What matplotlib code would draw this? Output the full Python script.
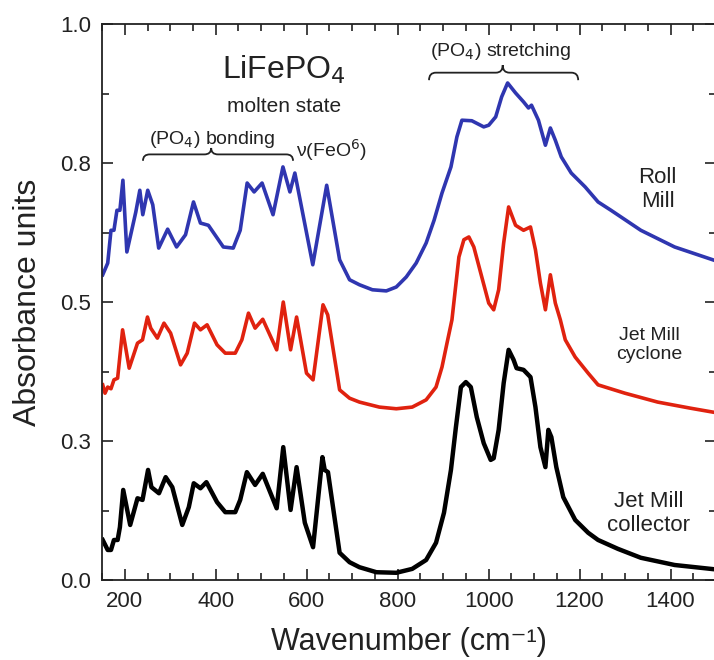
import numpy as np
import matplotlib.pyplot as plt
from matplotlib.path import Path
from matplotlib.patches import PathPatch
from matplotlib.ticker import MultipleLocator, FixedLocator, FixedFormatter

plt.rcParams['font.family'] = ['Liberation Sans', 'DejaVu Sans']

# Roll Mill (blue)
roll_x = [151.5, 162.5, 169.7, 176.2, 182.8, 189.3, 195.9, 204.6, 224.3, 233.1,
          239.6, 250.5, 261.5, 274.6, 294.3, 313.9, 333.6, 351.1, 366.4, 383.9,
          416.7, 438.5, 453.8, 469.1, 484.4, 501.9, 526.0, 547.8, 563.1, 574.0,
          613.4, 644.0, 672.4, 694.3, 716.1, 744.5, 775.1, 797.0, 818.9, 840.7,
          862.6, 880.1, 897.5, 917.2, 930.3, 941.3, 963.1, 989.3, 1000.3, 1015.6,
          1028.7, 1041.8, 1059.3, 1076.8, 1087.7, 1094.3, 1109.6, 1124.9, 1135.8, 1146.7,
          1159.8, 1181.7, 1212.3, 1240.7, 1269.1, 1334.7, 1409.0, 1500.0]
roll_y = [0.549, 0.570, 0.629, 0.629, 0.665, 0.665, 0.719, 0.590, 0.662, 0.701,
          0.657, 0.701, 0.675, 0.597, 0.631, 0.599, 0.621, 0.680, 0.642, 0.638,
          0.599, 0.597, 0.629, 0.714, 0.698, 0.714, 0.657, 0.743, 0.698, 0.732,
          0.567, 0.710, 0.576, 0.540, 0.531, 0.522, 0.520, 0.527, 0.545, 0.570,
          0.606, 0.647, 0.696, 0.743, 0.797, 0.827, 0.826, 0.815, 0.818, 0.833,
          0.869, 0.894, 0.876, 0.860, 0.849, 0.854, 0.827, 0.782, 0.813, 0.791,
          0.761, 0.732, 0.707, 0.680, 0.665, 0.629, 0.599, 0.574]

# Jet Mill cyclone (red)
cyc_x = [151.5, 156.6, 162.5, 169.7, 176.2, 184.3, 195.2, 209.7, 228.0, 239.0,
         249.9, 257.1, 271.7, 286.2, 300.8, 322.7, 337.3, 353.3, 366.4, 381.0,
         402.9, 421.0, 442.9, 457.5, 472.0, 486.6, 503.4, 534.0, 548.5, 564.6,
         577.8, 599.6, 614.0, 635.9, 646.2, 672.4, 694.3, 716.1, 759.8, 797.0,
         832.0, 862.6, 884.4, 897.5, 908.5, 919.4, 934.7, 945.6, 956.6, 967.5,
         985.0, 1000.3, 1011.2, 1022.1, 1033.1, 1044.0, 1059.3, 1076.8, 1092.1, 1103.0,
         1113.9, 1124.9, 1135.8, 1146.7, 1157.7, 1168.6, 1190.4, 1218.9, 1240.7, 1299.7,
         1371.9, 1444.0, 1500.0]
cyc_y = [0.351, 0.336, 0.347, 0.344, 0.360, 0.363, 0.450, 0.381, 0.426, 0.432,
         0.473, 0.453, 0.435, 0.462, 0.444, 0.387, 0.408, 0.462, 0.450, 0.459,
         0.423, 0.408, 0.408, 0.432, 0.480, 0.453, 0.469, 0.414, 0.500, 0.414,
         0.473, 0.372, 0.360, 0.495, 0.477, 0.342, 0.327, 0.320, 0.311, 0.308,
         0.311, 0.324, 0.347, 0.383, 0.426, 0.468, 0.581, 0.612, 0.617, 0.599,
         0.545, 0.498, 0.486, 0.522, 0.606, 0.671, 0.638, 0.629, 0.635, 0.594,
         0.534, 0.486, 0.549, 0.498, 0.468, 0.432, 0.401, 0.372, 0.351, 0.336,
         0.320, 0.309, 0.301]

# Jet Mill collector (black)
col_x = [151.5, 162.5, 169.7, 176.2, 184.3, 189.3, 196.6, 211.9, 228.0, 239.0,
         251.2, 258.6, 275.2, 289.9, 304.5, 326.4, 340.8, 351.7, 366.4, 379.5,
         402.9, 421.0, 442.9, 453.8, 468.5, 486.6, 503.4, 534.0, 548.5, 564.6,
         577.8, 595.9, 614.0, 634.6, 639.6, 646.8, 672.4, 694.3, 716.1, 753.3,
         797.0, 832.0, 862.6, 884.4, 901.9, 917.2, 928.1, 939.1, 950.0, 960.9,
         974.0, 989.3, 1004.6, 1011.2, 1022.1, 1033.1, 1044.0, 1054.9, 1061.5, 1076.8,
         1092.1, 1103.0, 1113.9, 1124.9, 1131.4, 1138.0, 1148.9, 1164.2, 1190.4, 1218.9,
         1240.7, 1284.4, 1334.7, 1409.0, 1500.0]
col_y = [0.072, 0.054, 0.054, 0.072, 0.072, 0.095, 0.162, 0.099, 0.147, 0.144,
         0.198, 0.167, 0.156, 0.185, 0.167, 0.099, 0.131, 0.174, 0.165, 0.176,
         0.140, 0.122, 0.122, 0.144, 0.194, 0.171, 0.191, 0.129, 0.239, 0.126,
         0.203, 0.103, 0.059, 0.221, 0.198, 0.194, 0.049, 0.032, 0.023, 0.014,
         0.013, 0.020, 0.036, 0.067, 0.121, 0.198, 0.275, 0.347, 0.356, 0.347,
         0.293, 0.246, 0.216, 0.219, 0.270, 0.354, 0.414, 0.396, 0.381, 0.378,
         0.365, 0.311, 0.239, 0.203, 0.270, 0.257, 0.203, 0.149, 0.108, 0.085,
         0.072, 0.056, 0.040, 0.027, 0.019]

y_ticks = [0.0, 0.25, 0.5, 0.75, 1.0]
y_labels = ['0.0', '0.3', '0.5', '0.8', '1.0']


def brace(ax, x0, x1, xtip, y0, h, r):
    # curly brace opening downwards, ends at y0, tip at y0 + h
    ym = y0 + h / 2
    verts = [(x0, y0), (x0, ym), (x0 + r, ym),
             (xtip - r, ym), (xtip, ym), (xtip, y0 + h),
             (xtip, ym), (xtip + r, ym),
             (x1 - r, ym), (x1, ym), (x1, y0)]
    codes = [Path.MOVETO, Path.CURVE3, Path.CURVE3,
             Path.LINETO, Path.CURVE3, Path.CURVE3,
             Path.CURVE3, Path.CURVE3,
             Path.LINETO, Path.CURVE3, Path.CURVE3]
    ax.add_patch(PathPatch(Path(verts, codes), fc='none', ec='#222222', lw=1.3))


fig = plt.figure(figsize=(7.14, 6.6), dpi=100)
ax = fig.add_axes([0.1429, 0.1212, 0.8599, 0.8424])

ax.plot(roll_x, roll_y, color='#2f36b0', lw=2.6, solid_joinstyle='round')
ax.plot(cyc_x, cyc_y, color='#e0220f', lw=2.6, solid_joinstyle='round')
ax.plot(col_x, col_y, color='black', lw=3.2, solid_joinstyle='round')

ax.set_xlim(150, 1500)
ax.set_ylim(0, 1.0)
ax.xaxis.set_major_locator(MultipleLocator(200))
ax.xaxis.set_minor_locator(MultipleLocator(50))
ax.yaxis.set_major_locator(FixedLocator(y_ticks))
ax.yaxis.set_major_formatter(FixedFormatter(y_labels))
ax.yaxis.set_minor_locator(MultipleLocator(0.125))
ax.tick_params(which='both', direction='in', top=True, right=True,
               labelsize=16, colors='#222222', width=1.2)
ax.tick_params(which='major', length=8, pad=8)
ax.tick_params(which='minor', length=5)
for s in ax.spines.values():
    s.set_linewidth(1.3)
    s.set_color('#222222')

ax.set_xlabel('Wavenumber (cm⁻¹)', fontsize=22, color='#222222', labelpad=11)
ax.set_ylabel('Absorbance units', fontsize=23, color='#222222', labelpad=12)

ax.text(550, 0.917, 'LiFePO$_4$', fontsize=23, ha='center', va='center', color='#222222')
ax.text(550, 0.852, 'molten state', fontsize=15, ha='center', va='center', color='#222222')
ax.text(393, 0.793, '(PO$_4$) bonding', fontsize=14, ha='center', va='center', color='#222222')
ax.text(576, 0.773, 'ν(FeO$^6$)', fontsize=14, ha='left', va='center', color='#222222')
ax.text(1027, 0.951, '(PO$_4$) stretching', fontsize=14, ha='center', va='center', color='#222222')
ax.text(1372, 0.703, 'Roll\nMill', fontsize=16, ha='center', va='center', color='#222222')
ax.text(1354, 0.423, 'Jet Mill\ncyclone', fontsize=14, ha='center', va='center', color='#222222')
ax.text(1352, 0.120, 'Jet Mill\ncollector', fontsize=16, ha='center', va='center', color='#222222')

brace(ax, 240, 570, 390, 0.754, 0.023, 15)
brace(ax, 869, 1197, 1031, 0.899, 0.027, 15)

plt.savefig('out.png', dpi=100)
